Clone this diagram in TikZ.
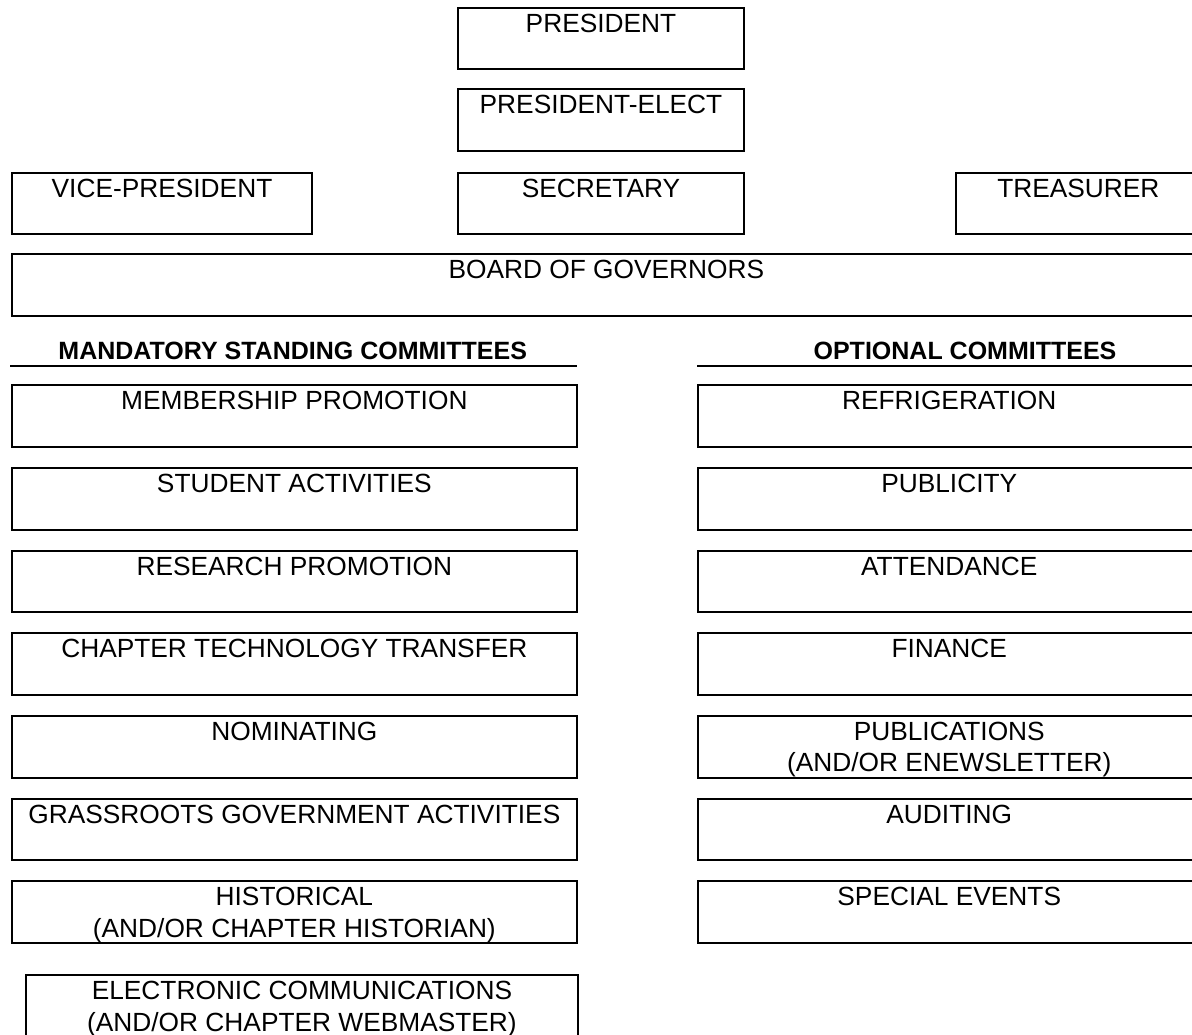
\documentclass[tikz,border=0pt]{standalone}
\usepackage{fontspec}
\setmainfont{Liberation Sans}
\usetikzlibrary{calc}
\newcommand{\obox}[6]{%
  \node[box, anchor=north west, minimum width=#4pt-#2pt, minimum height=#5pt-#3pt] (#1) at (#2,#3) {};
  \node[lbl] (#1-t) at ($(#1.north)+(0,24.3)$) {#6};}
\newcommand{\oboxtwo}[6]{%
  \node[box, anchor=north west, minimum width=#4pt-#2pt, minimum height=#5pt-#3pt] (#1) at (#2,#3) {};
  \node[lbl] (#1-t) at ($(#1.north)+(0,55.8)$) {#6};}
\begin{document}
\begin{tikzpicture}[x=1pt,y=-1pt,
  box/.style={draw=black, line width=2pt, inner sep=0pt, outer sep=0pt},
  lbl/.style={font=\fontsize{26.3}{31.5}\selectfont, inner sep=0pt, anchor=base, align=center},
  head/.style={font=\fontsize{25}{30}\selectfont\bfseries, inner sep=0pt, anchor=base},
  rulestyle/.style={line width=2pt}]
\useasboundingbox (0,0) rectangle (1192,1034);
\clip (0,0) rectangle (1192,1034);
% officers
\obox{pres}{457.7}{7.7}{744.3}{69}{PRESIDENT}
\obox{preselect}{457.7}{89.3}{744.3}{151}{PRESIDENT-ELECT}
\obox{vp}{11.7}{172.7}{312.3}{233.5}{VICE-PRESIDENT}
\obox{sec}{457.7}{172.7}{744.3}{233.5}{SECRETARY}
\obox{treas}{955.7}{172.7}{1201}{233.5}{TREASURER}
\obox{board}{11.7}{254.3}{1201}{316}{BOARD OF GOVERNORS}
% headings
\node[head] (mand) at (292.7,359) {MANDATORY STANDING COMMITTEES};
\coordinate (mandL) at (10,365.7);
\coordinate (mandR) at (577,365.7);
\draw[rulestyle] (mandL) -- (mandR);
\node[head] (opt) at (965,359) {OPTIONAL COMMITTEES};
\coordinate (optL) at (697,365.5);
\coordinate (optR) at (1201,365.5);
\draw[rulestyle] (optL) -- (optR);
% mandatory committees
\obox{memb}{11.7}{385.3}{577}{447}{MEMBERSHIP PROMOTION}
\obox{stud}{11.7}{468}{577}{529.7}{STUDENT ACTIVITIES}
\obox{res}{11.7}{550.7}{577}{612.4}{RESEARCH PROMOTION}
\obox{ctt}{11.7}{633.3}{577}{695}{CHAPTER TECHNOLOGY TRANSFER}
\obox{nom}{11.7}{716}{577}{777.7}{NOMINATING}
\obox{grass}{11.7}{798.7}{577}{860.4}{GRASSROOTS GOVERNMENT ACTIVITIES}
\oboxtwo{hist}{11.7}{881.3}{577}{943}{HISTORICAL\\(AND/OR CHAPTER HISTORIAN)}
\oboxtwo{elec}{26.4}{975.3}{577.5}{1045}{ELECTRONIC COMMUNICATIONS\\(AND/OR CHAPTER WEBMASTER)}
% optional committees
\obox{refr}{697.5}{385.3}{1201}{447}{REFRIGERATION}
\obox{publ}{697.5}{468}{1201}{529.7}{PUBLICITY}
\obox{att}{697.5}{550.7}{1201}{612.4}{ATTENDANCE}
\obox{fin}{697.5}{633.3}{1201}{695}{FINANCE}
\oboxtwo{pubs}{697.5}{716}{1201}{777.7}{PUBLICATIONS\\(AND/OR ENEWSLETTER)}
\obox{aud}{697.5}{798.7}{1201}{860.4}{AUDITING}
\obox{spec}{697.5}{881.3}{1201}{943}{SPECIAL EVENTS}
\end{tikzpicture}
\end{document}
